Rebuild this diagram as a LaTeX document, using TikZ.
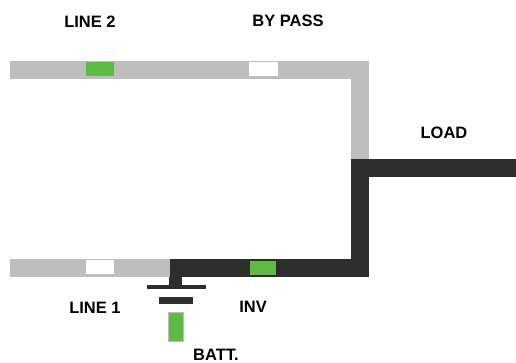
\documentclass[tikz,border=0pt]{standalone}
\usepackage{fontspec}
\setmainfont{Liberation Sans}
\definecolor{busgray}{HTML}{BEBEBC}
\definecolor{busdark}{HTML}{2D2D2D}
\definecolor{lamp}{HTML}{5DBB46}
\tikzset{
  x=1pt,y=-1pt,
  graybus/.style={draw=busgray,line width=18pt,line join=miter},
  darkbus/.style={draw=busdark,line width=18pt,line join=miter},
  lampbox/.style={minimum width=#1,minimum height=14pt,inner sep=0pt,outer sep=0pt},
  on/.style={fill=lamp},
  off/.style={fill=white},
  lbl/.style={font=\fontsize{16.5}{18}\selectfont\bfseries,text=black,inner sep=0pt},
}
\begin{document}
\begin{tikzpicture}
\useasboundingbox (0,0) rectangle (516,363);
% junction points
\coordinate (topL) at (10,70);
\coordinate (topR) at (359.5,70);
\coordinate (loadT) at (359.5,168.5);
\coordinate (loadR) at (516,168.5);
\coordinate (botR) at (359.5,268);
\coordinate (botM) at (170,268);
\coordinate (botL) at (10,268);
\coordinate (stemT) at (175.5,277);
\coordinate (plateC) at (176.5,287);
% busbars
\draw[graybus] (topL) -- (topR) -- (loadT);
\draw[graybus] (botL) -- (botM);
\draw[darkbus] (loadR) -- (loadT) -- (botR) -- (botM);
% battery symbol
\node[fill=busdark,minimum width=59pt,minimum height=4.5pt,inner sep=0pt] (plate1) at (plateC) {};
\draw[draw=busdark,line width=12.5pt] (stemT) -- (stemT |- plate1.north);
\node[fill=busdark,minimum width=34pt,minimum height=7.5pt,inner sep=0pt] (plate2) at (175.5,300.5) {};
\node[fill=lamp,draw=busgray,line width=1pt,minimum width=15pt,minimum height=29pt,inner sep=0pt] (batt) at (176,327) {};
% lamps
\node[lampbox=27.5pt,on] (l2) at (100,69.5) {};
\node[lampbox=29pt,off] (bp) at (263,69.5) {};
\node[lampbox=27.5pt,off] (l1) at (100,267) {};
\node[lampbox=26pt,on] (inv) at (263,267.5) {};
% labels
\node[lbl] (tl2) at (90,22) {LINE 2};
\node[lbl] (tbp) at (288,20.5) {BY PASS};
\node[lbl] (tload) at (444,132.5) {LOAD};
\node[lbl] (tl1) at (95,308) {LINE 1};
\node[lbl] (tinv) at (253,306.5) {INV};
\node[lbl] (tbatt) at (216,355) {BATT.};
\end{tikzpicture}
\end{document}
